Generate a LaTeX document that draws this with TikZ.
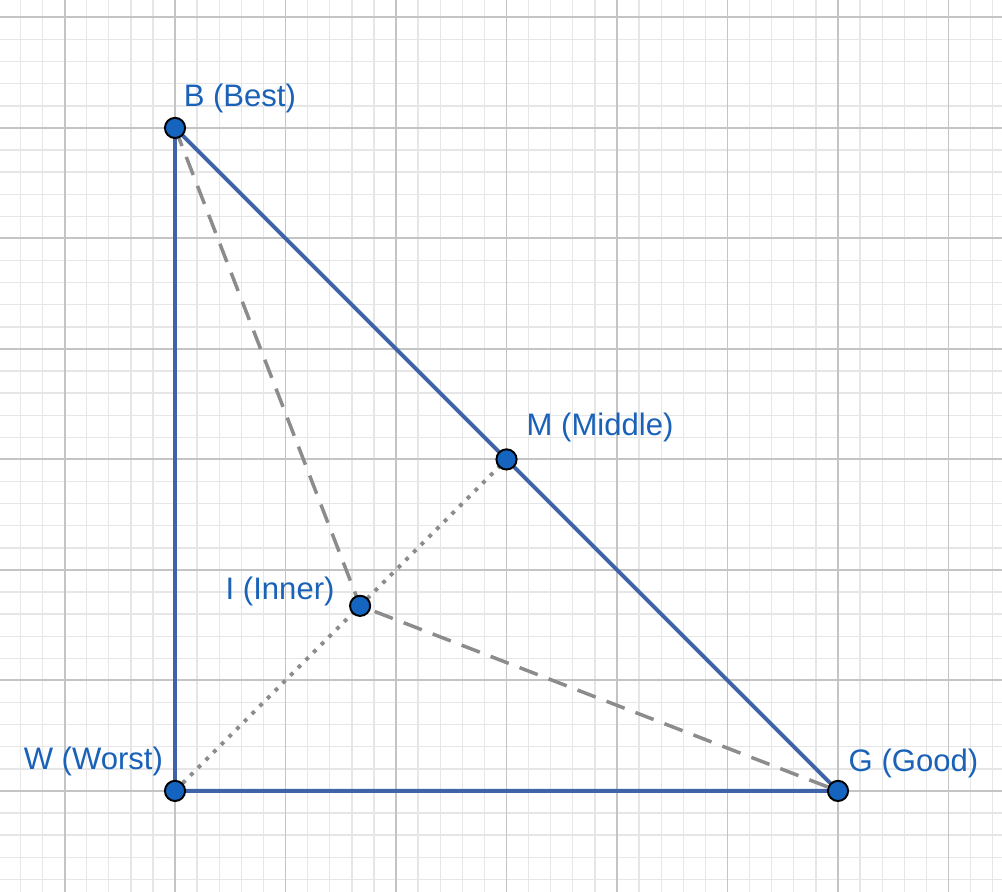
\documentclass[tikz,border=0pt]{standalone}
\usepackage{fontspec}
\setsansfont{Liberation Sans}
\definecolor{edgeblue}{HTML}{3F63A8}
\definecolor{ptblue}{HTML}{1565C0}
\definecolor{lblblue}{HTML}{1A62B8}
\definecolor{minorgrid}{HTML}{E6E6E6}
\definecolor{majorgrid}{HTML}{C4C4C4}
\tikzset{
  vertex/.style={circle, fill=ptblue, draw=black, line width=0.5pt, minimum size=5.2pt, inner sep=0pt},
  lbl/.style={text=lblblue, anchor=base west, inner sep=0pt, font=\sffamily\fontsize{8}{9.6}\selectfont},
  edge/.style={edgeblue, line width=1pt},
  reflect/.style={gray!90, line width=0.9pt, dash pattern=on 5pt off 3pt},
  median/.style={gray!90, line width=1pt, dash pattern=on 1pt off 1.8pt}
}

\begin{document}
\begin{tikzpicture}
    % === Canvas and grid ===
    \useasboundingbox[fill=white] (-1.584,-0.914) rectangle (7.484,7.158);
    \draw[minorgrid, line width=0.35pt, step=0.2] (-1.584,-0.914) grid (7.484,7.158);
    \draw[majorgrid, line width=0.5pt, step=1] (-1.584,-0.914) grid (7.484,7.158);

    % === Simplex vertices ===
    \coordinate (W) at (0,0);
    \coordinate (B) at (0,6);
    \coordinate (G) at (6,0);
    \coordinate (M) at (3,3);
    \coordinate (I) at (1.675,1.675);

    % === Construction lines ===
    \draw[median] (W) -- (M);
    \draw[reflect] (B) -- (I) -- (G);

    % === Triangle ===
    \draw[edge] (W) -- (B) -- (G) -- cycle;

    % === Points ===
    \node[vertex] (pW) at (W) {};
    \node[vertex] (pB) at (B) {};
    \node[vertex] (pG) at (G) {};
    \node[vertex] (pM) at (M) {};
    \node[vertex] (pI) at (I) {};

    % === Labels ===
    \node[lbl] (labB) at (0.072,6.19) {B (Best)};
    \node[lbl] (labM) at (3.176,3.213) {M (Middle)};
    \node[lbl] (labI) at (0.452,1.728) {I (Inner)};
    \node[lbl] (labW) at (-1.376,0.19) {W (Worst)};
    \node[lbl] (labG) at (6.09,0.172) {G (Good)};

\end{tikzpicture}
\end{document}
